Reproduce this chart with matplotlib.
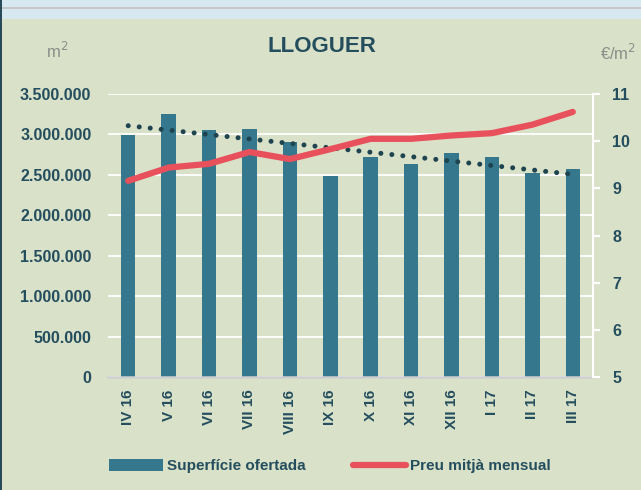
import numpy as np
import matplotlib
matplotlib.use('Agg')
import matplotlib.pyplot as plt
from matplotlib.patches import Rectangle, Patch
from matplotlib.lines import Line2D
from matplotlib.ticker import FuncFormatter

plt.rcParams['font.family'] = ['Liberation Sans', 'DejaVu Sans']

# ---------------- dades ----------------
mesos = ['IV 16', 'V 16', 'VI 16', 'VII 16', 'VIII 16', 'IX 16',
         'X 16', 'XI 16', 'XII 16', 'I 17', 'II 17', 'III 17']
superficie = [2990000, 3250000, 3055000, 3065000, 2910000, 2486000,
              2717000, 2638000, 2770000, 2717000, 2519000, 2568000]
preu = [9.16, 9.44, 9.52, 9.77, 9.62, 9.83,
        10.05, 10.05, 10.12, 10.17, 10.35, 10.62]

fons = '#d9e1c8'
blau = '#35788e'
vermell = '#e8505b'
text_col = '#244e5e'

fig = plt.figure(figsize=(6.41, 4.90), dpi=100, facecolor=fons)

# franja superior i vora esquerra
fig.patches.append(Rectangle((0, 1 - 19 / 490), 1, 19 / 490, transform=fig.transFigure,
                             facecolor='#d8e8f0', edgecolor='none', zorder=0))
fig.patches.append(Rectangle((0, 1 - 9 / 490), 1, 2 / 490, transform=fig.transFigure,
                             facecolor='#c8c8c8', edgecolor='none', zorder=0))
fig.patches.append(Rectangle((0, 0), 2 / 641, 1, transform=fig.transFigure,
                             facecolor='#2a4a5a', edgecolor='none', zorder=1))

ax = fig.add_axes([108 / 641, 1 - 377 / 490, (593 - 108) / 641, (377 - 94) / 490])
ax.set_facecolor(fons)
x = np.arange(len(mesos))

ax.bar(x, superficie, width=0.36, color=blau, zorder=2)

# linia de tendencia (lineal) de la superficie
a, b = np.polyfit(x, superficie, 1)
ax.plot(x, a * x + b, color='#1e4450', lw=3.6, linestyle=(0, (0.01, 2.2)),
        dash_capstyle='round', zorder=3)

ax.set_ylim(0, 3500000)
ax.set_yticks(np.arange(0, 3500001, 500000))
ax.yaxis.set_major_formatter(FuncFormatter(lambda v, p: f'{v:,.0f}'.replace(',', '.')))
ax.set_xlim(-0.5, len(mesos) - 0.5)
ax.set_xticks(x)
ax.set_xticklabels(mesos, rotation=90)
ax.grid(axis='y', color='white', lw=1.3, zorder=1)
ax.set_axisbelow(True)
for s in ['left', 'top', 'right']:
    ax.spines[s].set_visible(False)
ax.spines['bottom'].set_color('#cfcfcf')
ax.spines['bottom'].set_linewidth(1.8)
ax.tick_params(axis='y', length=0, pad=12, labelsize=11.5, labelcolor=text_col)
ax.tick_params(axis='x', length=0, pad=9, labelsize=11, labelcolor=text_col)
for t in ax.get_yticklabels() + ax.get_xticklabels():
    t.set_fontweight('bold')

ax2 = ax.twinx()
ax2.patch.set_visible(False)
ax2.plot(x, preu, color=vermell, lw=4.5, solid_capstyle='round', zorder=4)
ax2.set_ylim(5, 11)
ax2.set_yticks(range(5, 12))
for s in ['left', 'top', 'bottom']:
    ax2.spines[s].set_visible(False)
ax2.spines['right'].set_color('white')
ax2.spines['right'].set_linewidth(1.5)
ax2.tick_params(axis='y', direction='out', length=5, width=1.5, color='white',
                pad=9, labelsize=11.5, labelcolor=text_col)
for t in ax2.get_yticklabels():
    t.set_fontweight('bold')

fig.text(322 / 641, 1 - 46 / 490, 'LLOGUER', ha='center', va='center',
         fontsize=16, fontweight='bold', color=text_col)
fig.text(57 / 641, 1 - 51 / 490, 'm$^2$', ha='center', va='center',
         fontsize=12, color='#8a8f8a')
fig.text(618 / 641, 1 - 53 / 490, '€/m$^2$', ha='center', va='center',
         fontsize=12, color='#8a8f8a')

handles = [Patch(facecolor=blau, edgecolor='none'),
           Line2D([0], [0], color=vermell, lw=4.5, solid_capstyle='round')]
leg = fig.legend(handles, ['Superfície ofertada', 'Preu mitjà mensual'],
                 loc='center', bbox_to_anchor=(330 / 641, 1 - 466 / 490), ncol=2,
                 frameon=False, fontsize=11, handlelength=3.5, handleheight=0.85,
                 columnspacing=3.1, handletextpad=0.25)
for t in leg.get_texts():
    t.set_color(text_col)
    t.set_fontweight('bold')

fig.savefig('out.png', dpi=100, facecolor=fons)
